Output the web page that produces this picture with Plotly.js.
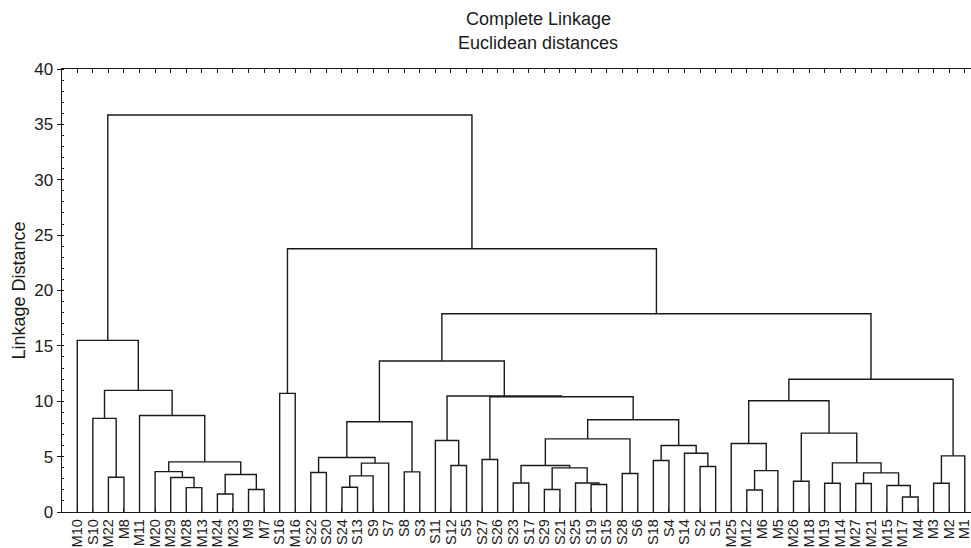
<!DOCTYPE html>
<html>
<head>
<meta charset="utf-8">
<script src="https://cdn.plot.ly/plotly-3.0.1.min.js"></script>
<style>
  html, body { margin: 0; padding: 0; background: #ffffff; }
  #chart { width: 971px; height: 548px; }
</style>
</head>
<body>
<div id="chart"></div>
<script>
// Leaf order (left to right)
const leafLabels = [
  "M10","S10","M22","M8","M11","M20","M29","M28","M13","M24","M23","M9","M7",
  "S16","M16",
  "S22","S20","S24","S13","S9","S7","S8","S3",
  "S11","S12","S5","S27","S26","S23","S17","S29","S21","S25","S19","S15","S28","S6",
  "S18","S4","S14","S2","S1",
  "M25","M12","M6","M5","M26","M18","M19","M14","M27","M21","M15","M17","M4","M3","M2","M1"
];

// Merge steps: node Nk joins mergeLeft[k] and mergeRight[k] at mergeHeight[k]
const mergeLeft = [
  "M22","S10","M28","M29","M20","M24","M9","N5","N4","M11","N1","M10",
  "S16",
  "S22","S24","N14","N15","N13","S8","N17",
  "S12","S11","S27","S23","S29","S19","S25","N24","N23","S28","N28",
  "S18","S2","S14","N31","N30","N22","N21","N19",
  "M12","N39","M25","M26","M19","M27","M17","M15","N44","N43","N42","N41",
  "M3","N51","N50","N38","N12","N11"
];
const mergeRight = [
  "M8","N0","M13","N2","N3","M23","M7","N6","N7","N8","N9","N10",
  "M16",
  "S20","S13","S9","S7","N16","S3","N18",
  "S5","N20","S26","S17","S21","S15","N25","N26","N27","S6","N29",
  "S4","S1","N32","N33","N34","N35","N36","N37",
  "M6","M5","N40","M18","M14","M21","M4","N45","N46","N47","N48","N49",
  "M2","M1","N52","N53","N54","N55"
];
const mergeHeight = [
  3.14, 8.45, 2.20, 3.11, 3.65, 1.63, 2.03, 3.38, 4.53, 8.72, 10.98, 15.50,
  10.71,
  3.56, 2.24, 3.26, 4.41, 4.92, 3.62, 8.15,
  4.20, 6.46, 4.74, 2.62, 2.03, 2.48, 2.62, 3.98, 4.20, 3.47, 6.60,
  4.65, 4.11, 5.31, 6.01, 8.33, 10.41, 10.47, 13.64,
  1.99, 3.74, 6.19, 2.78, 2.60, 2.57, 1.36, 2.39, 3.53, 4.44, 7.12, 10.05,
  2.60, 5.07, 11.98, 17.90, 23.77, 35.84
];

const yTicks = [0, 5, 10, 15, 20, 25, 30, 35, 40];

// Build node positions from the tree
const pos = {}, hgt = {};
leafLabels.forEach((l, i) => { pos[l] = i; hgt[l] = 0; });
const xs = [], ys = [];
for (let k = 0; k < mergeHeight.length; k++) {
  const a = mergeLeft[k], b = mergeRight[k], h = mergeHeight[k];
  xs.push(pos[a], pos[a], pos[b], pos[b], null);
  ys.push(hgt[a], h, h, hgt[b], null);
  const id = "N" + k;
  pos[id] = (pos[a] + pos[b]) / 2;
  hgt[id] = h;
}

const font = "Liberation Sans, Arial, Helvetica, sans-serif";
const ink = "#1a1a1a";
const trace = {
  type: "scatter", mode: "lines", x: xs, y: ys,
  line: { color: ink, width: 1.4 },
  hoverinfo: "skip", showlegend: false
};

const layout = {
  width: 971, height: 548,
  margin: { l: 62, r: 0, t: 69, b: 36 },
  paper_bgcolor: "#ffffff", plot_bgcolor: "#ffffff",
  font: { family: font, color: ink, size: 16 },
  showlegend: false,
  xaxis: {
    range: [-0.98, 57.4],
    tickmode: "array",
    tickvals: leafLabels.map((_, i) => i),
    ticktext: leafLabels,
    tickangle: -90,
    tickfont: { size: 14.5, family: font, color: ink },
    ticklabeloverflow: "allow",
    ticklabelstandoff: 0,
    ticks: "inside", ticklen: 4, tickcolor: ink,
    showline: true, linecolor: ink, linewidth: 1.4,
    mirror: "ticks",
    showgrid: false, zeroline: false, fixedrange: true
  },
  yaxis: {
    range: [0, 40],
    tickmode: "array", tickvals: yTicks, ticktext: yTicks.map(String),
    tickfont: { size: 17, family: font, color: ink },
    ticks: "outside", ticklen: 4, tickcolor: ink,
    minor: { ticks: "inside", dtick: 1, ticklen: 2, tickcolor: ink, showgrid: false },
    showline: true, linecolor: ink, linewidth: 1.4,
    showgrid: false, zeroline: false, fixedrange: true,
    title: { text: "Linkage Distance", font: { size: 18, family: font, color: ink }, standoff: 4 }
  },
  annotations: [
    { text: "Complete Linkage", xref: "paper", yref: "paper", x: 0.5237, y: 1.113,
      xanchor: "center", yanchor: "middle", showarrow: false, font: { size: 18, family: font, color: ink } },
    { text: "Euclidean distances", xref: "paper", yref: "paper", x: 0.5237, y: 1.0587,
      xanchor: "center", yanchor: "middle", showarrow: false, font: { size: 18, family: font, color: ink } }
  ]
};

Plotly.newPlot("chart", [trace], layout, { displayModeBar: false, staticPlot: true });
</script>
</body>
</html>
